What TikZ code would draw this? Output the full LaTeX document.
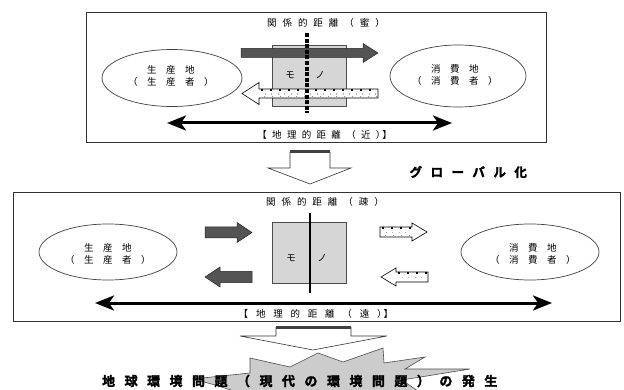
\documentclass[tikz,border=0pt]{standalone}
\usepackage{fontspec}
\usetikzlibrary{shapes.geometric,arrows.meta}
\newfontfamily\jp{Noto Sans CJK JP}[BoldFont={Noto Sans CJK JP Bold},BoldFeatures={FakeBold=2}]
\newcommand\LS[2]{{\addfontfeature{LetterSpace=#1}#2\kern-\dimexpr\fontdimen6\font*#1/100\relax}}
\newcommand\blockarrow[7][]{%
  \pgfmathsetmacro\baS{(#4>#2)?1:-1}%
  \pgfmathsetmacro\baH{#4-\baS*#7}%
  \path[#1] (#2,#3-#5) -- (\baH,#3-#5) -- (\baH,#3-#6) -- (#4,#3) -- (\baH,#3+#6) -- (\baH,#3+#5) -- (#2,#3+#5) -- cycle;}
\newcommand\arrowdots[4]{%
  \draw[black, line width=1.8pt, dash pattern=on 2pt off 7pt] (#1,#3-#4+1.3) -- (#2,#3-#4+1.3);
  \draw[black!30, line width=1.3pt, dash pattern=on 1.3pt off 5.2pt, dash phase=3] (#1,#3+0.6) -- (#2,#3+0.6);
  \draw[black!45, line width=1pt, dash pattern=on 1pt off 7pt, dash phase=5] (#1,#3+#4-1) -- (#2,#3+#4-1);}
\tikzset{
  every node/.style={inner sep=0pt, outer sep=0pt},
  ell/.style={ellipse, draw=black!75, line width=0.7pt},
  lbl/.style={font=\jp\fontsize{9.5}{12.5}\selectfont, align=center},
  bold/.style={font=\jp\bfseries\fontsize{12.5}{14}\selectfont},
  framebox/.style={draw=black!80, line width=0.9pt},
  mono/.style={rectangle, draw=black!70, fill=black!16, line width=0.7pt},
  geo/.style={line width=3pt, {Stealth[length=19pt,width=15pt,inset=5pt]}-{Stealth[length=19pt,width=15pt,inset=5pt]}},
  darkarr/.style={fill=black!67, draw=black!85, line width=0.5pt},
  whitearr/.style={fill=white, draw=black, line width=0.6pt},
  hollow/.style={fill=white, draw=black!80, line width=0.6pt},
  topbar/.style={draw=black!75, line width=3pt},
  starburst/.style={fill=black!20, draw=black!70, line width=0.6pt},
}
\begin{document}
\begin{tikzpicture}[x=1pt,y=-1pt]
\useasboundingbox (0,0) rectangle (624,390);
\fill[white] (0,0) rectangle (624,390);
\clip (0,0) rectangle (624,390);

% ---------- upper diagram ----------
\draw[framebox] (86,12) rectangle (546,142);
\node[lbl] (relA) at (323,23) {\LS{63}{関係的距離（蜜）}};
\node[ell, minimum width=140, minimum height=57] (prodA) at (172,78) {};
\node[lbl] (prodAt) at (166,76) {\LS{100}{生産地}\\\LS{100}{（生産者）}};
\node[ell, minimum width=136, minimum height=62] (consA) at (458,76) {};
\node[lbl] (consAt) at (450,75) {\LS{100}{消費地}\\\LS{100}{（消費者）}};
\node[mono, minimum width=74, minimum height=61] (monoA) at (309,75.5) {};
\node[lbl] (moA) at (290,75) {モ};
\node[lbl] (noA) at (320,75) {ノ};
\blockarrow[darkarr]{241}{53}{378}{4.5}{9.5}{15}
\blockarrow[whitearr]{378}{93.5}{242}{4.5}{11}{17}
\arrowdots{261}{377}{93.5}{4.5}
\coordinate (relTopA) at (307,33);
\coordinate (relBotA) at (307,113);
\draw[black, line width=4pt, dash pattern=on 4pt off 1.6pt] (relTopA) -- (relBotA);
\coordinate (geoA1) at (167,123);
\coordinate (geoA2) at (452,123);
\draw[geo] (geoA1) -- (geoA2);
\node[lbl] (geoAt) at (322,135) {\LS{56}{【地理的距離（近）\kern-3pt】}};

% ---------- globalisation arrow ----------
\path[hollow] (290,152) -- (290,168) -- (268,168) -- (310,184) -- (351,168) -- (330,168) -- (330,152);
\draw[topbar] (290,152) -- (330,152);
\node[bold] (glob) at (464,172) {\LS{68}{グローバル化}};

% ---------- lower diagram ----------
\draw[framebox] (13,192) rectangle (620,321);
\node[lbl] (relB) at (322,202) {\LS{63}{関係的距離（疎）}};
\node[ell, minimum width=138, minimum height=56] (prodB) at (108,252) {};
\node[lbl] (prodBt) at (103,254) {\LS{100}{生産地}\\\LS{100}{（生産者）}};
\node[ell, minimum width=138, minimum height=56] (consB) at (530,252) {};
\node[lbl] (consBt) at (528,254) {\LS{100}{消費地}\\\LS{100}{（消費者）}};
\node[mono, minimum width=74, minimum height=61] (monoB) at (309,252.5) {};
\node[lbl] (moB) at (291,258) {モ};
\node[lbl] (noB) at (322,258) {ノ};
\coordinate (relTopB) at (310,213);
\coordinate (relBotB) at (310,293);
\draw[black, line width=2.6pt] (relTopB) -- (relBotB);
\blockarrow[darkarr]{205}{232.5}{252}{5.5}{10}{15}
\blockarrow[darkarr]{252}{277}{205}{5.5}{10}{15}
\blockarrow[whitearr]{380}{232}{427}{5}{9}{15}
\arrowdots{382}{411}{232}{5}
\blockarrow[whitearr]{428}{277}{381}{5}{9}{15}
\arrowdots{398}{427}{277}{5}
\coordinate (geoB1) at (95,303);
\coordinate (geoB2) at (552,303);
\draw[geo] (geoB1) -- (geoB2);
\node[lbl] (geoBt) at (312,314) {\LS{82}{【地理的距離（遠）\kern-3pt】}};

% ---------- bottom ----------
\path[starburst] (193,379) -- (250,373) -- (250,358) -- (290,367) -- (318,353) -- (343,362)
  -- (383,348) -- (384,363) -- (425,357) -- (405,369) -- (470,369) -- (402,380) -- (425,396)
  -- (250,396) -- (215,385) -- cycle;
\path[hollow] (276,327) -- (276,336) -- (240,336) -- (313,350) -- (387,336) -- (351,336) -- (351,327);
\draw[topbar] (276,327) -- (351,327);
\node[bold, font=\jp\bfseries\fontsize{13}{15}\selectfont] (issue) at (295,381) {\LS{73}{地球環境問題（現代の環境問題）の発生}};
\end{tikzpicture}
\end{document}
